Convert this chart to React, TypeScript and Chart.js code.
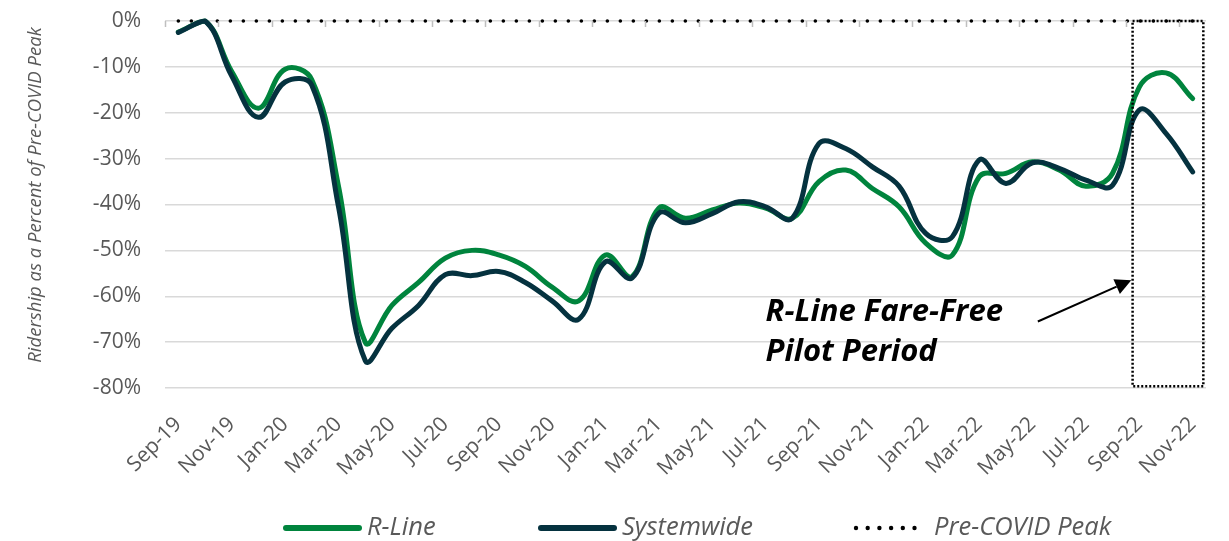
import React, { useEffect, useRef } from "react";
import { Chart, registerables } from "chart.js";

Chart.register(...registerables);

const months = [
  "Sep-19", "Oct-19", "Nov-19", "Dec-19", "Jan-20", "Feb-20", "Mar-20", "Apr-20", "May-20", "Jun-20",
  "Jul-20", "Aug-20", "Sep-20", "Oct-20", "Nov-20", "Dec-20", "Jan-21", "Feb-21", "Mar-21", "Apr-21",
  "May-21", "Jun-21", "Jul-21", "Aug-21", "Sep-21", "Oct-21", "Nov-21", "Dec-21", "Jan-22", "Feb-22",
  "Mar-22", "Apr-22", "May-22", "Jun-22", "Jul-22", "Aug-22", "Sep-22", "Oct-22", "Nov-22",
];

const rLine = [
  -2.4, 0, -11, -19, -10.5, -12.8, -36, -70, -62, -57,
  -51.7, -50, -51, -53.5, -58, -61, -51, -55.7, -40.8, -43,
  -41.2, -39.7, -40.8, -43, -35, -32.5, -36.5, -40.5, -48.4, -51,
  -34, -33.2, -30.7, -32.5, -36, -33.2, -14.4, -11.3, -16.9,
];

const systemwide = [
  -2.5, 0, -12, -21, -13.3, -14, -40.5, -74, -67, -62,
  -55.3, -55.5, -54.6, -57, -61, -65, -52.5, -56, -41.9, -44,
  -42, -39.4, -40.5, -43, -26.7, -27.8, -31.8, -36, -46.3, -47,
  -30.3, -35.4, -30.9, -32.1, -34.7, -35.8, -19.4, -24.5, -32.9,
];

const preCovidPeak = [
  0, 0, 0, 0, 0, 0, 0, 0, 0, 0,
  0, 0, 0, 0, 0, 0, 0, 0, 0, 0,
  0, 0, 0, 0, 0, 0, 0, 0, 0, 0,
  0, 0, 0, 0, 0, 0, 0, 0, 0,
];

const yMin = -80;
const yMax = 0;
const yStep = 10;

const yTitle = "Ridership as a Percent of Pre-COVID Peak";
const legendLabels = ["R-Line", "Systemwide", "Pre-COVID Peak"];
const noteLines = ["R-Line Fare-Free", "Pilot Period"];

// annotation anchors in data units (category index, percent)
const pilotBox = { x0: 35.75, x1: 38.4, y0: 0, y1: -79.6 };
const noteAnchor = { x: 22, y1: -65.4, y2: -74.2 };
const arrow = { x0: 32.2, y0: -65.5, x1: 35.7, y1: -56.5 };

const GREEN = "#00843D";
const DARK = "#05323F";
const GRAY = "#595959";
const FONT = "'Open Sans', 'Noto Sans', sans-serif";

const overlayPlugin = {
  id: "overlay",
  afterDatasetsDraw(chart: any) {
    const { ctx, chartArea } = chart;
    const xs = chart.scales.x;
    const ys = chart.scales.y;
    const step = xs.getPixelForValue(1) - xs.getPixelForValue(0);

    ctx.save();
    // top tick marks (axis crosses at 0)
    ctx.strokeStyle = "#BFBFBF";
    ctx.lineWidth = 1.5;
    for (let i = 0; i < months.length; i += 2) {
      const x = Math.round(xs.getPixelForValue(i) - step / 2) + 0.5;
      ctx.beginPath();
      ctx.moveTo(x, chartArea.top);
      ctx.lineTo(x, chartArea.top + 6);
      ctx.stroke();
    }

    // pilot period box
    ctx.strokeStyle = "#000";
    ctx.lineWidth = 2.5;
    ctx.setLineDash([2, 2]);
    const bx0 = xs.getPixelForValue(pilotBox.x0);
    const bx1 = xs.getPixelForValue(pilotBox.x1);
    const by0 = ys.getPixelForValue(pilotBox.y0);
    const by1 = ys.getPixelForValue(pilotBox.y1);
    ctx.strokeRect(bx0, by0, bx1 - bx0, by1 - by0);
    ctx.setLineDash([]);

    // arrow
    const ax0 = xs.getPixelForValue(arrow.x0);
    const ay0 = ys.getPixelForValue(arrow.y0);
    const ax1 = xs.getPixelForValue(arrow.x1);
    const ay1 = ys.getPixelForValue(arrow.y1);
    const ang = Math.atan2(ay1 - ay0, ax1 - ax0);
    const hl = 16;
    const hw = 8;
    const bxh = ax1 - hl * Math.cos(ang);
    const byh = ay1 - hl * Math.sin(ang);
    ctx.lineWidth = 2;
    ctx.beginPath();
    ctx.moveTo(ax0, ay0);
    ctx.lineTo(bxh, byh);
    ctx.stroke();
    ctx.fillStyle = "#000";
    ctx.beginPath();
    ctx.moveTo(ax1, ay1);
    ctx.lineTo(bxh + hw * Math.sin(ang), byh - hw * Math.cos(ang));
    ctx.lineTo(bxh - hw * Math.sin(ang), byh + hw * Math.cos(ang));
    ctx.closePath();
    ctx.fill();

    // note text
    ctx.font = `italic bold 31px ${FONT}`;
    ctx.textAlign = "left";
    ctx.textBaseline = "alphabetic";
    const tx = xs.getPixelForValue(noteAnchor.x);
    ctx.fillText(noteLines[0], tx, ys.getPixelForValue(noteAnchor.y1));
    ctx.fillText(noteLines[1], tx, ys.getPixelForValue(noteAnchor.y2));
    ctx.restore();
  },
  afterDraw(chart: any) {
    const { ctx } = chart;
    ctx.save();
    // y axis title
    ctx.fillStyle = GRAY;
    ctx.font = `italic 18.5px ${FONT}`;
    ctx.textAlign = "center";
    ctx.textBaseline = "middle";
    ctx.translate(36, 195);
    ctx.rotate(-Math.PI / 2);
    ctx.fillText(yTitle, 0, 0);
    ctx.restore();

    // legend
    ctx.save();
    const ly = 528;
    ctx.font = `italic 25.5px ${FONT}`;
    ctx.textBaseline = "middle";
    ctx.textAlign = "left";
    ctx.lineCap = "round";
    // R-Line
    ctx.strokeStyle = GREEN;
    ctx.lineWidth = 6;
    ctx.beginPath();
    ctx.moveTo(286, ly);
    ctx.lineTo(359, ly);
    ctx.stroke();
    ctx.fillStyle = GRAY;
    ctx.fillText(legendLabels[0], 367, ly);
    // Systemwide
    ctx.strokeStyle = DARK;
    ctx.beginPath();
    ctx.moveTo(541, ly);
    ctx.lineTo(614, ly);
    ctx.stroke();
    ctx.fillText(legendLabels[1], 622, ly);
    // Pre-COVID Peak
    ctx.fillStyle = "#000";
    for (let i = 0; i < 6; i++) {
      ctx.beginPath();
      ctx.arc(856 + i * 11.7, ly, 2.2, 0, Math.PI * 2);
      ctx.fill();
    }
    ctx.fillStyle = GRAY;
    ctx.fillText(legendLabels[2], 934, ly);
    ctx.restore();
  },
};

export default function App() {
  const ref = useRef<HTMLCanvasElement | null>(null);

  useEffect(() => {
    if (!ref.current) return;
    const chart = new Chart(ref.current, {
      type: "line",
      data: {
        labels: months,
        datasets: [
          {
            label: legendLabels[0],
            data: rLine,
            borderColor: GREEN,
            backgroundColor: GREEN,
            borderWidth: 5,
            pointRadius: 0,
            tension: 0.4,
            borderCapStyle: "round",
            borderJoinStyle: "round",
            clip: false,
            order: 1,
          },
          {
            label: legendLabels[1],
            data: systemwide,
            borderColor: DARK,
            backgroundColor: DARK,
            borderWidth: 5,
            pointRadius: 0,
            tension: 0.4,
            borderCapStyle: "round",
            borderJoinStyle: "round",
            clip: false,
            order: 0,
          },
          {
            label: legendLabels[2],
            data: preCovidPeak,
            borderColor: "#000",
            borderWidth: 3.6,
            borderDash: [0, 13],
            borderCapStyle: "round",
            pointRadius: 0,
            tension: 0,
            clip: false,
            order: 2,
          },
        ],
      },
      options: {
        responsive: false,
        animation: false,
        layout: { padding: { left: 0, right: 23, top: 21, bottom: 0 } },
        plugins: { legend: { display: false }, tooltip: { enabled: false } },
        scales: {
          x: {
            offset: true,
            grid: { display: false, drawTicks: false },
            border: { display: false },
            ticks: {
              autoSkip: false,
              minRotation: 45,
              maxRotation: 45,
              padding: 24,
              color: GRAY,
              font: { family: FONT, size: 21 },
              callback: (_v: any, i: number) => (i % 2 === 0 ? months[i] : ""),
            },
            afterFit: (s: any) => {
              s.height = 153;
              s.paddingLeft = 0;
              s.paddingRight = 0;
            },
          },
          y: {
            min: yMin,
            max: yMax,
            ticks: {
              stepSize: yStep,
              padding: 24,
              color: GRAY,
              font: { family: FONT, size: 21 },
              callback: (v: any) => `${v}%`,
            },
            grid: { color: "#D9D9D9", lineWidth: 1.5, drawTicks: false },
            border: { display: false },
            afterFit: (s: any) => {
              s.width = 165;
              s.paddingTop = 0;
              s.paddingBottom = 0;
            },
          },
        },
      },
      plugins: [overlayPlugin],
    });
    return () => chart.destroy();
  }, []);

  return (
    <div style={{ position: "absolute", left: 0, top: 0, width: 1229, height: 541, background: "#fff" }}>
      <canvas ref={ref} width={1229} height={541} style={{ display: "block" }} />
    </div>
  );
}
